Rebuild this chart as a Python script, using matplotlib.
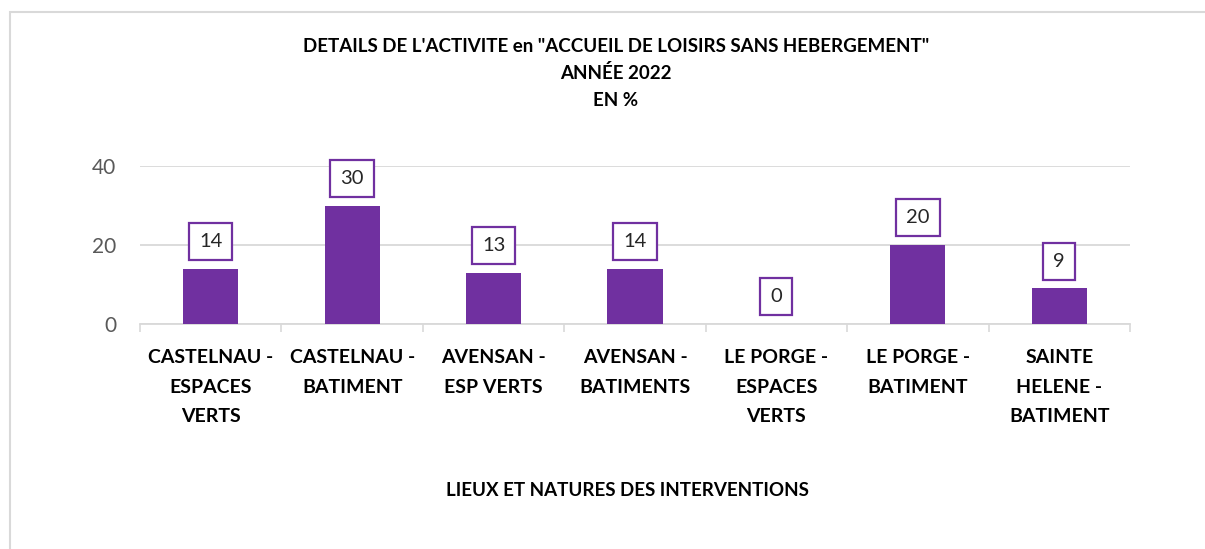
import matplotlib.pyplot as plt
from matplotlib.patches import Rectangle

categories = ["CASTELNAU -\nESPACES\nVERTS", "CASTELNAU -\nBATIMENT",
              "AVENSAN -\nESP VERTS", "AVENSAN -\nBATIMENTS",
              "LE PORGE -\nESPACES\nVERTS", "LE PORGE -\nBATIMENT",
              "SAINTE\nHELENE -\nBATIMENT"]
values = [14, 30, 13, 14, 0, 20, 9]
yticks = [0, 20, 40]

purple = "#7030a0"
grid_col = "#d9d9d9"

plt.rcParams['font.family'] = ['Lato', 'DejaVu Sans']

fig = plt.figure(figsize=(12.05, 5.49), dpi=100)
ax = fig.add_axes([140 / 1205, 1 - 324 / 549, 990 / 1205, 158 / 549])

x = range(len(values))
ax.bar(x, values, width=0.39, color=purple, zorder=3)

for xi, v in zip(x, values):
    ax.annotate(str(v), (xi, v), xytext=(0, 19.5), textcoords="offset points",
                ha="center", va="center", fontsize=14.5, color="#262626",
                bbox=dict(boxstyle="square,pad=0.5", fc="white", ec=purple, lw=1.6),
                zorder=4)

ax.set_xlim(-0.5, len(values) - 0.5)
ax.set_ylim(0, 40)
ax.set_yticks(yticks)
ax.set_xticks(list(x))
ax.set_xticklabels(categories, fontsize=14, fontweight="bold", linespacing=1.9)
ax.set_xticks([i - 0.5 for i in range(len(values) + 1)], minor=True)
ax.tick_params(axis="x", which="major", length=0, pad=18)
ax.tick_params(axis="x", which="minor", length=6, width=1.2, color=grid_col)
ax.tick_params(axis="y", length=0, pad=17, labelsize=15, labelcolor="#595959")

ax.grid(axis="y", color=grid_col, lw=1.3, zorder=0)
for s in ["top", "right", "left"]:
    ax.spines[s].set_visible(False)
ax.spines["bottom"].set_color(grid_col)
ax.spines["bottom"].set_linewidth(1.3)

cx = 616 / 1205
fig.text(cx, 1 - 46 / 549, "DETAILS DE L'ACTIVITE en \"ACCUEIL DE LOISIRS SANS HEBERGEMENT\"",
         ha="center", va="center", fontsize=13.5, fontweight="bold")
fig.text(cx, 1 - 73 / 549, "ANNÉE 2022", ha="center", va="center", fontsize=13.5, fontweight="bold")
fig.text(cx, 1 - 100 / 549, "EN %", ha="center", va="center", fontsize=13.5, fontweight="bold")
fig.text(627 / 1205, 1 - 491 / 549, "LIEUX ET NATURES DES INTERVENTIONS",
         ha="center", va="center", fontsize=13.5, fontweight="bold")

# chart frame (right and bottom edges cut off in the original)
fig.patches.append(Rectangle((10 / 1205, -0.1), 1.2, 1 - 12 / 549 + 0.1,
                             transform=fig.transFigure, fill=False,
                             ec=grid_col, lw=1.5))

fig.savefig("out.png", dpi=100)
